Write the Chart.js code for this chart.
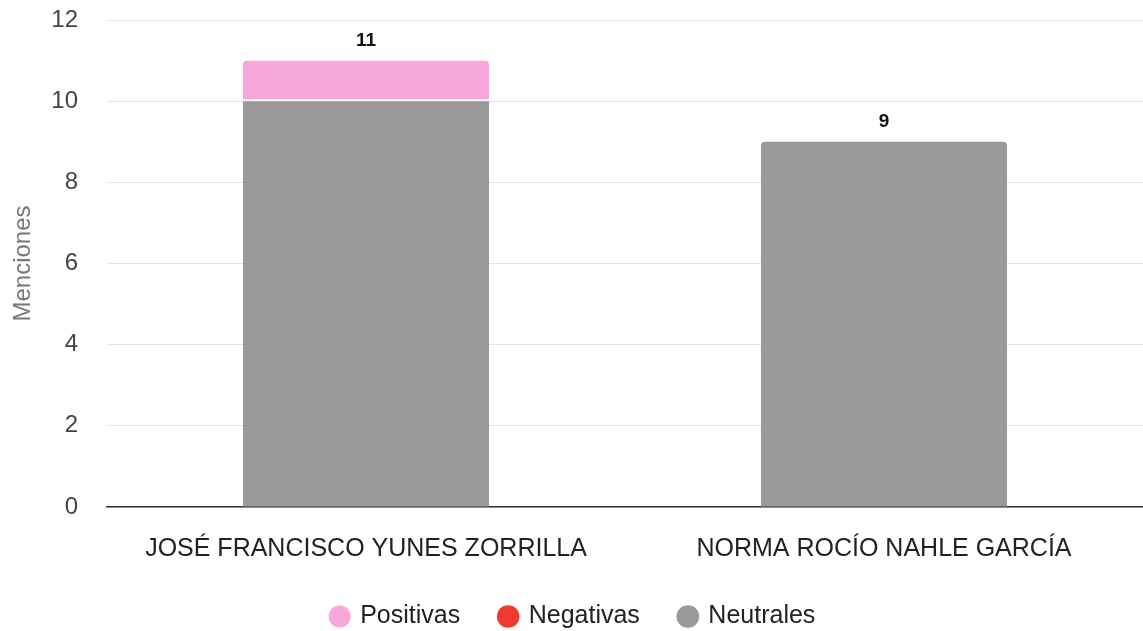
<!DOCTYPE html>
<html>
<head>
<meta charset="utf-8">
<script src="https://cdn.jsdelivr.net/npm/chart.js@4/dist/chart.umd.min.js"></script>
<style>
  html, body { margin: 0; padding: 0; background: #fff; }
  #wrap { width: 1143px; height: 631px; }
</style>
</head>
<body>
<div id="wrap"><canvas id="chart"></canvas></div>
<script>
// categorias y series
var categorias = ['JOSÉ FRANCISCO YUNES ZORRILLA', 'NORMA ROCÍO NAHLE GARCÍA'];
var positivas = [1, 0];
var negativas = [0, 0];
var neutrales = [10, 9];
var yTicks = [0, 2, 4, 6, 8, 10, 12];

var FONT = '"Liberation Sans", Arial, sans-serif';

// total arriba de cada barra
var totalsPlugin = {
  id: 'totals',
  afterDatasetsDraw: function(chart) {
    var ctx = chart.ctx;
    var yScale = chart.scales.y;
    var meta = chart.getDatasetMeta(0);
    ctx.save();
    ctx.font = 'bold 19px ' + FONT;
    ctx.fillStyle = '#111';
    ctx.textAlign = 'center';
    ctx.textBaseline = 'middle';
    for (var i = 0; i < categorias.length; i++) {
      var total = positivas[i] + negativas[i] + neutrales[i];
      var x = meta.data[i].x;
      var y = yScale.getPixelForValue(total);
      ctx.fillText(String(total), x, y - 20);
    }
    ctx.restore();
  }
};

new Chart(document.getElementById('chart'), {
  type: 'bar',
  data: {
    labels: categorias,
    datasets: [{
      label: 'Neutrales',
      data: neutrales,
      backgroundColor: '#999999',
      borderRadius: function(c) { return positivas[c.dataIndex] ? 0 : 4; },
      borderSkipped: 'start'
    }, {
      label: 'Negativas',
      data: negativas,
      backgroundColor: '#ee3a2f'
    }, {
      label: 'Positivas',
      data: positivas,
      backgroundColor: '#f8a7db',
      borderColor: '#ffffff',
      borderWidth: { top: 0, left: 0, right: 0, bottom: 2 },
      borderSkipped: false,
      borderRadius: { topLeft: 4, topRight: 4, bottomLeft: 0, bottomRight: 0 }
    }]
  },
  options: {
    responsive: true,
    maintainAspectRatio: false,
    animation: false,
    layout: { padding: { top: 0, left: 4, right: 0, bottom: -8 } },
    datasets: { bar: { categoryPercentage: 0.95, barPercentage: 0.5 } },
    scales: {
      x: {
        stacked: true,
        grid: { display: false, drawTicks: false },
        border: { color: '#333333', width: 1.5 },
        ticks: { color: '#222', font: { family: FONT, size: 25 }, padding: 27, maxRotation: 0 },
        afterFit: function(axis) { axis.height = 57; }
      },
      y: {
        stacked: true,
        min: 0,
        max: 12,
        afterBuildTicks: function(axis) {
          axis.ticks = yTicks.map(function(v) { return { value: v }; });
        },
        afterFit: function(axis) {
          axis.width = 103;
          axis.paddingTop = 20;
          axis.paddingBottom = 0;
        },
        grid: { color: '#e3e3e3', drawTicks: false },
        border: { display: false },
        ticks: { color: '#444', font: { family: FONT, size: 24 }, padding: 29 },
        title: {
          display: true,
          text: 'Menciones',
          color: '#777',
          font: { family: FONT, size: 24 },
          padding: { top: 5, bottom: 4 }
        }
      }
    },
    plugins: {
      legend: {
        position: 'bottom',
        reverse: true,
        labels: {
          usePointStyle: true,
          pointStyle: 'circle',
          boxWidth: 16,
          boxHeight: 16,
          padding: 40,
          color: '#222',
          font: { family: FONT, size: 25 }
        }
      },
      tooltip: { enabled: false }
    }
  },
  plugins: [totalsPlugin]
});
</script>
</body>
</html>
